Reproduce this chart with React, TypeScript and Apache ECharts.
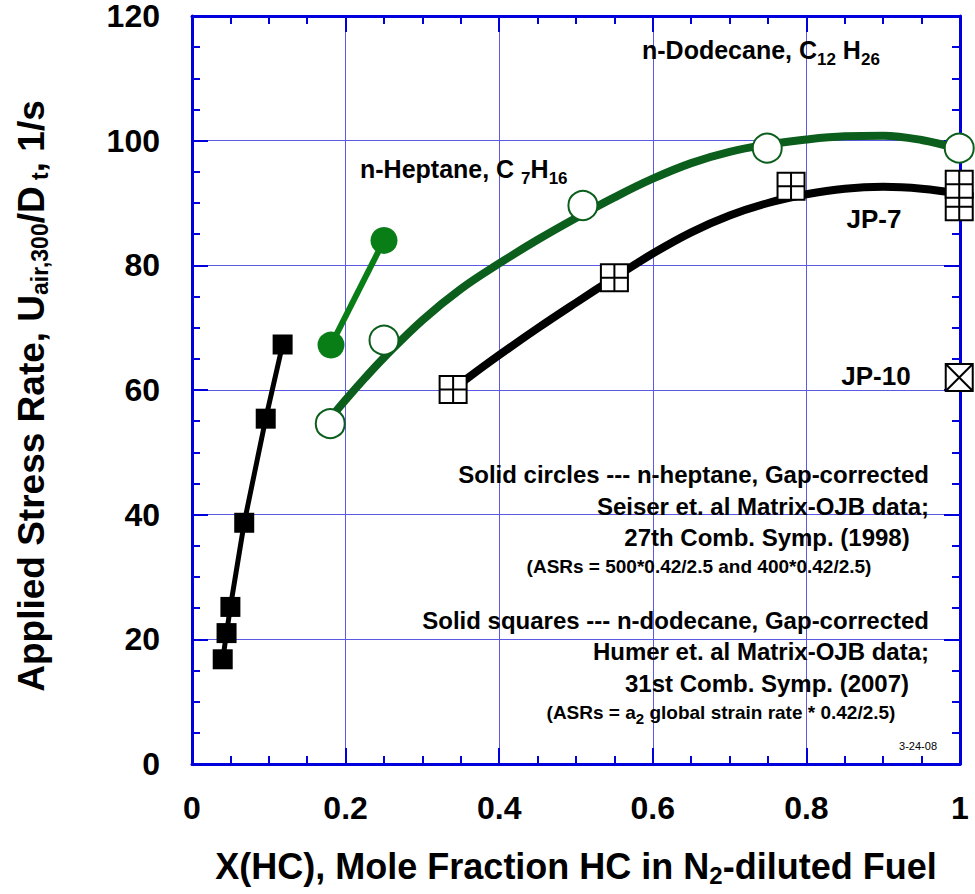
import React, { useEffect, useRef } from 'react';
import * as echarts from 'echarts';

// ---- data ----
const xTickLabels = ['0', '0.2', '0.4', '0.6', '0.8', '1'];
const yTickLabels = ['0', '20', '40', '60', '80', '100', '120'];

// solid squares (n-dodecane, Humer et al.)
const solidSquareX = [0.040, 0.045, 0.050, 0.068, 0.096, 0.118];
const solidSquareY = [16.8, 21.0, 25.2, 38.7, 55.4, 67.3];

// solid circles (n-heptane, Seiser et al.)
const solidCircleX = [0.181, 0.250];
const solidCircleY = [67.2, 84.0];

// open circles (n-heptane) and their fitted curve
const openCircleX = [0.180, 0.250, 0.509, 0.749, 0.999];
const openCircleY = [54.6, 68.0, 89.6, 98.8, 98.8];
const heptaneFitX = [0.179, 0.2, 0.225, 0.25, 0.3, 0.35, 0.4, 0.45, 0.5, 0.55, 0.6, 0.65, 0.7, 0.75, 0.8, 0.85, 0.9, 0.95, 1.0];
const heptaneFitY = [55.3, 58.4, 61.9, 65.2, 71.2, 76.2, 80.3, 84.1, 87.6, 90.9, 93.9, 96.4, 98.2, 99.4, 100.2, 100.7, 100.8, 100.1, 98.6];

// open squares with cross (n-dodecane / JP-7) and fitted curve
const gridSquareX = [0.340, 0.550, 0.780, 0.999, 0.999];
const gridSquareY = [60.1, 78.0, 92.7, 89.4, 93.0];
const dodecaneFitX = [0.34, 0.36, 0.4, 0.45, 0.5, 0.55, 0.6, 0.65, 0.7, 0.75, 0.8, 0.85, 0.9, 0.95, 1.0];
const dodecaneFitY = [60.1, 62.0, 65.6, 69.9, 74.0, 78.0, 81.9, 85.3, 88.0, 90.0, 91.4, 92.3, 92.6, 92.3, 91.5];

// JP-10
const jp10X = [0.999];
const jp10Y = [62.0];

const FONT = '"Liberation Sans", Arial, Helvetica, sans-serif';
const AXIS_BLUE = '#0000dd';
const GRID_BLUE = '#5a5ae6';
const DARK_GREEN = '#0b5e1c';
const GREEN = '#0a7e16';

const PLUS_BOX = 'path://M0,0 L20,0 L20,20 L0,20 Z M10,0 L10,20 M0,10 L20,10';
const X_BOX = 'path://M0,0 L20,0 L20,20 L0,20 Z M0,0 L20,20 M20,0 L0,20';

const zip = (xs: number[], ys: number[]) => xs.map((x, i) => [x, ys[i]]);

function label(x: number, y: number, text: string, size: number, align: string, rich?: any, weight = 'bold') {
  return {
    type: 'text',
    x,
    y,
    z: 10,
    style: {
      text,
      fontSize: size,
      fontWeight: weight,
      fontFamily: FONT,
      fill: '#000',
      align,
      verticalAlign: 'middle',
      rich,
    },
  };
}

function subRich(main: number, sub: number, drop: number) {
  return {
    m: { fontSize: main, fontWeight: 'bold', fontFamily: FONT, fill: '#000', verticalAlign: 'middle' },
    s: { fontSize: sub, fontWeight: 'bold', fontFamily: FONT, fill: '#000', verticalAlign: 'middle', padding: [drop * 2, 0, 0, 0] },
  };
}

function makeAxis(kind: 'x' | 'y', position: string, showLabels: boolean) {
  const isX = kind === 'x';
  return {
    type: 'value',
    position,
    min: 0,
    max: isX ? 1 : 120,
    interval: isX ? 0.2 : 20,
    axisLine: { show: true, onZero: false, lineStyle: { color: AXIS_BLUE, width: 3 } },
    axisTick: { show: true, inside: true, length: 16, lineStyle: { color: AXIS_BLUE, width: 2 } },
    minorTick: { show: true, splitNumber: 4, length: 8, lineStyle: { color: AXIS_BLUE, width: 2 } },
    splitLine: { show: showLabels, lineStyle: { color: GRID_BLUE, width: 1 } },
    axisLabel: showLabels
      ? isX
        ? {
            show: true,
            margin: 28,
            fontSize: 32,
            fontWeight: 'bold',
            fontFamily: FONT,
            color: '#000',
            formatter: (v: number) => xTickLabels[Math.round(v / 0.2)] ?? '',
          }
        : {
            show: true,
            margin: 32,
            fontSize: 32,
            lineHeight: 22,
            fontWeight: 'bold',
            fontFamily: FONT,
            color: '#000',
            padding: [8, 0, 0, 0],
            formatter: (v: number) => yTickLabels[Math.round(v / 20)] ?? '',
          }
      : { show: false },
  };
}

export default function App() {
  const ref = useRef<HTMLDivElement>(null);

  useEffect(() => {
    if (!ref.current) return;
    document.body.style.margin = '0';
    const chart = echarts.init(ref.current, null, { renderer: 'svg' });

    const option: any = {
      animation: false,
      backgroundColor: '#fff',
      grid: { left: 192, top: 16, width: 768, height: 748, containLabel: false },
      xAxis: [makeAxis('x', 'bottom', true), makeAxis('x', 'top', false)],
      yAxis: [makeAxis('y', 'left', true), makeAxis('y', 'right', false)],
      series: [
        {
          type: 'line',
          data: zip(heptaneFitX, heptaneFitY),
          smooth: 0.4,
          symbol: 'none',
          clip: false,
          lineStyle: { color: DARK_GREEN, width: 8 },
          z: 2,
        },
        {
          type: 'line',
          data: zip(dodecaneFitX, dodecaneFitY),
          smooth: 0.4,
          symbol: 'none',
          clip: false,
          lineStyle: { color: '#000', width: 8 },
          z: 2,
        },
        {
          type: 'line',
          data: zip(solidSquareX, solidSquareY),
          symbol: 'rect',
          symbolSize: 20,
          clip: false,
          itemStyle: { color: '#000' },
          lineStyle: { color: '#000', width: 5 },
          z: 3,
        },
        {
          type: 'line',
          data: zip(solidCircleX, solidCircleY),
          symbol: 'circle',
          symbolSize: 27,
          clip: false,
          itemStyle: { color: GREEN },
          lineStyle: { color: GREEN, width: 6 },
          z: 3,
        },
        {
          type: 'scatter',
          data: zip(openCircleX, openCircleY),
          symbol: 'circle',
          symbolSize: 29,
          clip: false,
          itemStyle: { color: '#fff', borderColor: DARK_GREEN, borderWidth: 2, opacity: 1 },
          z: 4,
        },
        {
          type: 'scatter',
          data: zip(gridSquareX, gridSquareY),
          symbol: PLUS_BOX,
          symbolSize: 27,
          clip: false,
          itemStyle: { color: '#fff', borderColor: '#000', borderWidth: 2, opacity: 1 },
          z: 4,
        },
        {
          type: 'scatter',
          data: zip(jp10X, jp10Y),
          symbol: X_BOX,
          symbolSize: 27,
          clip: false,
          itemStyle: { color: '#fff', borderColor: '#000', borderWidth: 2, opacity: 1 },
          z: 4,
        },
      ],
      graphic: [
        label(642, 50, '{m|n-Dodecane, C}{s|12}{m| H}{s|26}', 25, 'left', subRich(25, 17, 9)),
        label(360, 169, '{m|n-Heptane, C }{s|7}{m|H}{s|16}', 25, 'left', subRich(25, 17, 9)),
        label(874, 219, 'JP-7', 26, 'center'),
        label(876, 376, 'JP-10', 26, 'center'),
        label(929, 474, 'Solid circles --- n-heptane, Gap-corrected', 24, 'right'),
        label(929, 506, 'Seiser et. al Matrix-OJB data;', 24, 'right'),
        label(767, 537, '27th Comb. Symp. (1998)', 24, 'center'),
        label(699, 566, '(ASRs = 500*0.42/2.5 and 400*0.42/2.5)', 19, 'center'),
        label(929, 620, 'Solid squares --- n-dodecane, Gap-corrected', 24, 'right'),
        label(929, 651, 'Humer et. al Matrix-OJB data;', 24, 'right'),
        label(767, 683, '31st Comb. Symp. (2007)', 24, 'center'),
        label(721, 712, '{m|(ASRs = a}{s|2}{m| global strain rate * 0.42/2.5)}', 19, 'center', subRich(19, 15, 6)),
        label(937, 746, '3-24-08', 11, 'right', undefined, 'normal'),
        label(576, 866, '{m|X(HC), Mole Fraction HC in N}{s|2}{m|-diluted Fuel}', 36, 'center', subRich(36, 24, 9)),
        {
          ...label(31, 396, '{m|Applied Stress Rate, U}{s|air,300}{m|/D}{s| t}{m|, 1/s}', 37, 'center', subRich(37, 23, 9)),
          rotation: Math.PI / 2,
        },
      ],
    };

    chart.setOption(option);
    return () => chart.dispose();
  }, []);

  return <div ref={ref} style={{ width: 975, height: 894 }} />;
}
